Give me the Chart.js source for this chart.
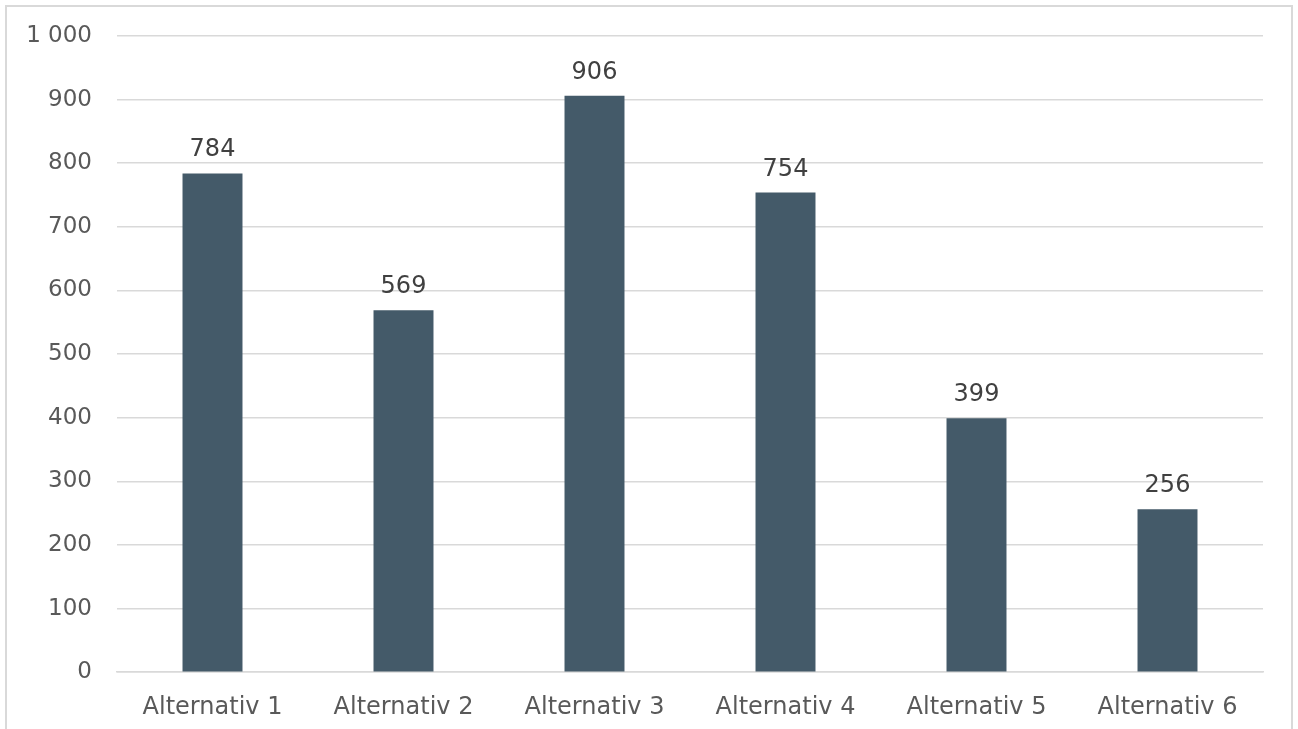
<!DOCTYPE html>
<html>
<head>
<meta charset="utf-8">
<script src="https://cdn.jsdelivr.net/npm/chart.js@4"></script>
<style>
  html, body { margin: 0; padding: 0; background: #fff; overflow: hidden; }
  #wrap {
    position: absolute; left: 5px; top: 5px;
    width: 1288px; height: 760px;
    border: 2px solid #d9d9d9; box-sizing: border-box;
  }
  #wrap canvas { display: block; }
</style>
</head>
<body>
<div id="wrap"><canvas id="grafico" width="1284" height="756"></canvas></div>
<script>
// categorias y valores
const categorias = ['Alternativ 1', 'Alternativ 2', 'Alternativ 3', 'Alternativ 4', 'Alternativ 5', 'Alternativ 6'];
const valores = [784, 569, 906, 754, 399, 256];
const ejeMin = 0;
const ejeMax = 1000;
const ejePaso = 100;

// separador de miles con espacio ("1 000")
const fmt = v => String(v).replace(/\B(?=(\d{3})+(?!\d))/g, ' ');

// etiquetas de valor encima de cada barra
const etiquetasBarras = {
  id: 'etiquetasBarras',
  afterDatasetsDraw(chart) {
    const { ctx } = chart;
    const meta = chart.getDatasetMeta(0);
    ctx.save();
    ctx.font = '24px "DejaVu Sans", Verdana, sans-serif';
    ctx.fillStyle = '#404040';
    ctx.textAlign = 'center';
    ctx.textBaseline = 'alphabetic';
    meta.data.forEach((bar, i) => {
      ctx.fillText(fmt(valores[i]), bar.x, bar.y - 17);
    });
    ctx.restore();
  }
};

Chart.defaults.font.family = '"DejaVu Sans", Verdana, sans-serif';
Chart.defaults.font.size = 23;
Chart.defaults.color = '#595959';

const ctx = document.getElementById('grafico').getContext('2d');
new Chart(ctx, {
  type: 'bar',
  data: {
    labels: categorias,
    datasets: [{
      data: valores,
      backgroundColor: '#445a69',
      borderWidth: 0,
      categoryPercentage: 1,
      barPercentage: 0.314
    }]
  },
  options: {
    responsive: false,
    animation: false,
    layout: { padding: { left: 0, right: 28, top: 29, bottom: 20 } },
    plugins: {
      legend: { display: false },
      tooltip: { enabled: false }
    },
    scales: {
      x: {
        grid: { display: false, drawTicks: false },
        border: { display: true, color: '#d9d9d9', width: 1.5 },
        ticks: { color: '#595959', padding: 21, font: { size: 24 } }
      },
      y: {
        min: ejeMin,
        max: ejeMax,
        // marcas invisibles: dejan el hueco entre etiquetas y rejilla
        grid: { color: '#d9d9d9', lineWidth: 1.5, drawTicks: true, tickLength: 25, tickColor: 'rgba(0,0,0,0)' },
        border: { display: false },
        ticks: {
          stepSize: ejePaso,
          padding: 0,
          color: '#595959',
          callback: v => fmt(v)
        },
        // ancho fijo del eje para que el área de barras empiece en 110
        afterFit: s => { s.width = 110; }
      }
    }
  },
  plugins: [etiquetasBarras]
});
</script>
</body>
</html>
